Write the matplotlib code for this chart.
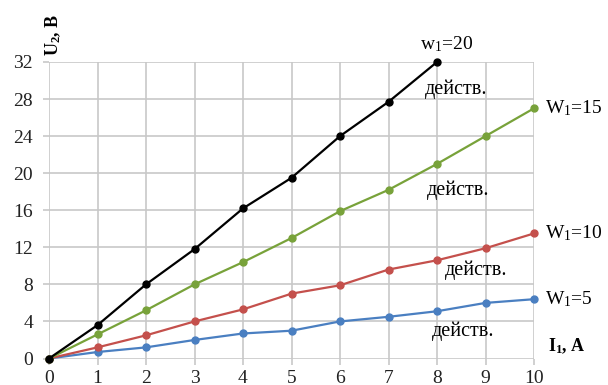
import matplotlib
matplotlib.use("Agg")
import matplotlib.pyplot as plt

current = [0, 1, 2, 3, 4, 5, 6, 7, 8, 9, 10]
u_w20 = [0, 3.6, 8.0, 11.8, 16.2, 19.5, 24.0, 27.7, 32.0]
u_w15 = [0, 2.6, 5.2, 8.0, 10.4, 13.0, 15.9, 18.2, 21.0, 24.0, 27.0]
u_w10 = [0, 1.2, 2.5, 4.0, 5.3, 7.0, 7.9, 9.6, 10.6, 11.9, 13.5]
u_w5 = [0, 0.7, 1.2, 2.0, 2.7, 3.0, 4.0, 4.5, 5.1, 6.0, 6.4]
x_ticks = [0, 1, 2, 3, 4, 5, 6, 7, 8, 9, 10]
y_ticks = [0, 4, 8, 12, 16, 20, 24, 28, 32]

plt.rcParams['font.family'] = ['Liberation Serif', 'DejaVu Serif']
plt.rcParams['mathtext.fontset'] = 'custom'
plt.rcParams['mathtext.rm'] = 'Liberation Serif'
plt.rcParams['mathtext.it'] = 'Liberation Serif:italic'
plt.rcParams['mathtext.bf'] = 'Liberation Serif:bold'

fig = plt.figure(figsize=(6.08, 3.85), dpi=100)
ax = fig.add_axes([49/608, 1-358.5/385, (534-49)/608, (358.5-62)/385])

series = [
    (u_w5, '#4a7fc1'),
    (u_w10, '#c4504c'),
    (u_w15, '#78a23a'),
    (u_w20, '#000000'),
]
for vals, col in series:
    ax.plot(current[:len(vals)], vals, color=col, lw=1.6, marker='o', ms=5,
            clip_on=False, zorder=3)

ax.set_xlim(0, 10)
ax.set_ylim(0, 32)
ax.set_xticks(x_ticks)
ax.set_yticks(y_ticks)
for s in ax.spines.values():
    s.set_visible(False)
ax.grid(True, color='#c8c8c8', lw=1.2)
ax.tick_params(axis='both', colors='#c8c8c8', labelcolor='#222222',
               labelsize=14, length=4.5, width=1.2)
ax.tick_params(axis='y', pad=7)
ax.tick_params(axis='x', pad=4)

fs = 14
fig.text(53/608, 1-35/385, r'U$_\mathbf{2}$, B', rotation=90,
         fontsize=13, fontweight='bold', ha='center', va='center')
fig.text(567/608, 1-346/385, r'I$_\mathbf{1}$, A', fontsize=13, fontweight='bold',
         ha='center', va='center')

ax.annotate('w$_1$=20', xy=(8, 32), xytext=(-12, 6), textcoords='offset points',
            fontsize=fs, ha='left', va='bottom', annotation_clip=False)
ax.annotate('W$_1$=15', xy=(10, u_w15[-1]), xytext=(8, 0), textcoords='offset points',
            fontsize=fs, ha='left', va='center', annotation_clip=False)
ax.annotate('W$_1$=10', xy=(10, u_w10[-1]), xytext=(8, 0), textcoords='offset points',
            fontsize=fs, ha='left', va='center', annotation_clip=False)
ax.annotate('W$_1$=5', xy=(10, u_w5[-1]), xytext=(8, 0), textcoords='offset points',
            fontsize=fs, ha='left', va='center', annotation_clip=False)

for (xp, yp) in [(456, 89), (458, 190), (476, 270), (463, 331)]:
    fig.text(xp/608, 1-yp/385, 'действ.', fontsize=14.5, ha='center', va='center')

fig.savefig('out.png', dpi=100)
